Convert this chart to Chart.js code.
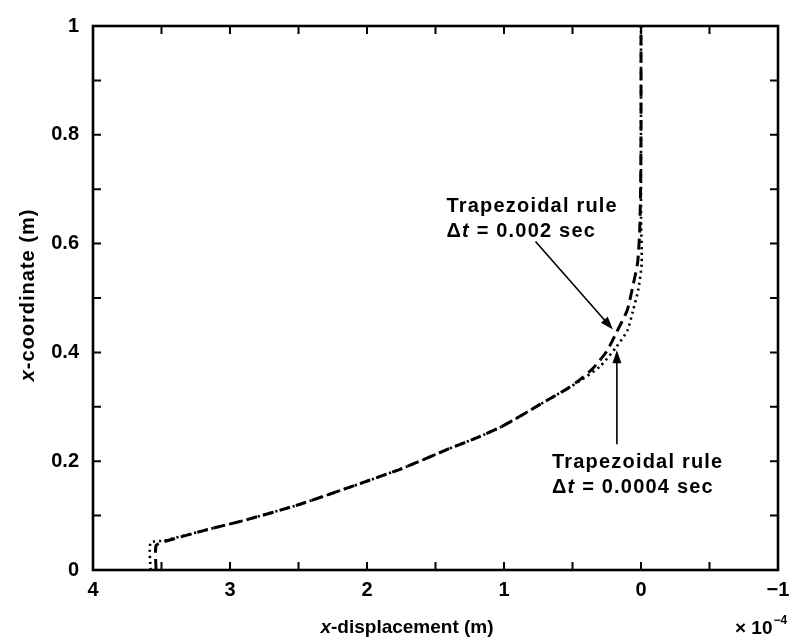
<!DOCTYPE html>
<html>
<head>
<meta charset="utf-8">
<script src="https://cdn.jsdelivr.net/npm/chart.js@4.4.0/dist/chart.umd.min.js"></script>
<style>
  html, body { margin: 0; padding: 0; background: #fff; }
  #wrap { width: 798px; height: 643px; position: relative; }
</style>
</head>
<body>
<div id="wrap"><canvas id="chart"></canvas></div>
<script>
// Values (x in units of 1e-4 m, y in m)
const coarseX = [3.54, 3.54, 3.48, 3.2, 2.87, 2.5, 2.14, 1.75, 1.41, 1.2, 1.03, 0.88, 0.74, 0.54, 0.45, 0.35, 0.25, 0.18, 0.10, 0.055, 0.025, 0.01, 0.003, 0, 0];
const coarseY = [0, 0.045, 0.052, 0.072, 0.093, 0.12, 0.151, 0.186, 0.222, 0.243, 0.262, 0.283, 0.304, 0.333, 0.349, 0.371, 0.402, 0.436, 0.478, 0.527, 0.564, 0.62, 0.7, 0.8, 1];

const fineX = [3.58, 3.58, 3.48, 3.2, 2.87, 2.5, 2.14, 1.75, 1.41, 1.2, 1.03, 0.88, 0.74, 0.54, 0.45, 0.3, 0.18, 0.10, 0.06, 0.02, -0.005, 0, 0];
const fineY = [0, 0.05, 0.054, 0.072, 0.093, 0.12, 0.151, 0.186, 0.222, 0.243, 0.262, 0.283, 0.304, 0.333, 0.347, 0.374, 0.41, 0.44, 0.475, 0.515, 0.564, 0.65, 1];

// tick labels
const xLabelTicks = [4, 3, 2, 1, 0, -1];
const yLabelTicks = [0, 0.2, 0.4, 0.6, 0.8, 1];

const FONT = '"Liberation Sans", Arial, sans-serif';

function toPoints(xs, ys) {
    return xs.map((x, i) => ({ x: x, y: ys[i] }));
}

// inward ticks and the box round the plot
const frameTicks = {
    id: 'frameTicks',
    afterDraw(chart) {
        const { ctx, chartArea: a, scales } = chart;
        const len = 8;
        ctx.save();
        ctx.strokeStyle = '#000';
        ctx.lineWidth = 2;
        scales.x.ticks.forEach(t => {
            const px = scales.x.getPixelForValue(t.value);
            ctx.beginPath();
            ctx.moveTo(px, a.bottom); ctx.lineTo(px, a.bottom - len);
            ctx.moveTo(px, a.top); ctx.lineTo(px, a.top + len);
            ctx.stroke();
        });
        scales.y.ticks.forEach(t => {
            const py = scales.y.getPixelForValue(t.value);
            ctx.beginPath();
            ctx.moveTo(a.left, py); ctx.lineTo(a.left + len, py);
            ctx.moveTo(a.right, py); ctx.lineTo(a.right - len, py);
            ctx.stroke();
        });
        ctx.lineWidth = 2.6;
        ctx.strokeRect(a.left, a.top, a.right - a.left, a.bottom - a.top);
        ctx.restore();
    }
};

function arrow(ctx, x1, y1, x2, y2) {
    const ang = Math.atan2(y2 - y1, x2 - x1);
    const h = 13, w = 4.5;
    ctx.beginPath();
    ctx.moveTo(x1, y1);
    ctx.lineTo(x2 - Math.cos(ang) * h * 0.8, y2 - Math.sin(ang) * h * 0.8);
    ctx.stroke();
    ctx.beginPath();
    ctx.moveTo(x2, y2);
    ctx.lineTo(x2 - Math.cos(ang) * h + Math.sin(ang) * w, y2 - Math.sin(ang) * h - Math.cos(ang) * w);
    ctx.lineTo(x2 - Math.cos(ang) * h - Math.sin(ang) * w, y2 - Math.sin(ang) * h + Math.cos(ang) * w);
    ctx.closePath();
    ctx.fill();
}

// draws "x" in italic then the rest upright, centred on 0
function mixedTitle(ctx, rest, size) {
    ctx.font = 'italic bold ' + size + 'px ' + FONT;
    const w1 = ctx.measureText('x').width;
    ctx.font = 'bold ' + size + 'px ' + FONT;
    const w2 = ctx.measureText(rest).width;
    ctx.font = 'italic bold ' + size + 'px ' + FONT;
    ctx.fillText('x', -(w1 + w2) / 2, 0);
    ctx.font = 'bold ' + size + 'px ' + FONT;
    ctx.fillText(rest, -(w1 + w2) / 2 + w1, 0);
}

// labels, arrows and axis titles
const notes = {
    id: 'notes',
    afterDraw(chart) {
        const { ctx, scales: { x, y } } = chart;
        const X = v => x.getPixelForValue(v);
        const Y = v => y.getPixelForValue(v);
        ctx.save();
        ctx.fillStyle = '#000';
        ctx.strokeStyle = '#000';
        ctx.textAlign = 'left';
        ctx.textBaseline = 'alphabetic';
        ctx.letterSpacing = '1.2px';

        function deltaLine(px, py, rest) {
            ctx.font = 'bold 20px ' + FONT;
            ctx.fillText('\u0394', px, py);
            let w = ctx.measureText('\u0394').width;
            ctx.font = 'italic bold 20px ' + FONT;
            ctx.fillText('t', px + w, py);
            w += ctx.measureText('t').width;
            ctx.font = 'bold 20px ' + FONT;
            ctx.fillText(rest, px + w, py);
        }

        ctx.font = 'bold 20px ' + FONT;
        ctx.fillText('Trapezoidal rule', X(1.42), Y(0.658));
        deltaLine(X(1.42), Y(0.613), ' = 0.002 sec');

        ctx.font = 'bold 20px ' + FONT;
        ctx.fillText('Trapezoidal rule', X(0.65), Y(0.187));
        deltaLine(X(0.65), Y(0.142), ' = 0.0004 sec');

        ctx.lineWidth = 1.6;
        arrow(ctx, X(0.77), Y(0.604), X(0.205), Y(0.442));
        arrow(ctx, X(0.176), Y(0.231), X(0.176), Y(0.404));

        // x axis title
        ctx.letterSpacing = '0px';
        ctx.save();
        ctx.translate(407, 633);
        mixedTitle(ctx, '-displacement (m)', 19);
        ctx.restore();

        // y axis title
        ctx.save();
        ctx.letterSpacing = '1px';
        ctx.translate(34, 295);
        ctx.rotate(-Math.PI / 2);
        mixedTitle(ctx, '-coordinate (m)', 20);
        ctx.restore();

        // multiplier
        ctx.font = 'bold 19px ' + FONT;
        ctx.fillText('\u00d7 10', 735, 634);
        const mw = ctx.measureText('\u00d7 10').width;
        ctx.font = 'bold 12px ' + FONT;
        ctx.fillText('\u22124', 735 + mw + 1, 624);
        ctx.restore();
    }
};

const ctx = document.getElementById('chart');
new Chart(ctx, {
    type: 'scatter',
    data: {
        datasets: [
            {
                label: 'Trapezoidal rule, dt = 0.0004 sec',
                data: toPoints(fineX, fineY),
                showLine: true,
                borderColor: '#000',
                borderWidth: 2.6,
                borderDash: [2.2, 3.8],
                pointRadius: 0,
                tension: 0.2
            },
            {
                label: 'Trapezoidal rule, dt = 0.002 sec',
                data: toPoints(coarseX, coarseY),
                showLine: true,
                borderColor: '#000',
                borderWidth: 3,
                borderDash: [11, 6],
                pointRadius: 0,
                tension: 0.2
            }
        ]
    },
    options: {
        responsive: true,
        maintainAspectRatio: false,
        animation: false,
        layout: { padding: { left: 0, top: 20, right: 20, bottom: 0 } },
        plugins: {
            legend: { display: false },
            tooltip: { enabled: false }
        },
        scales: {
            x: {
                type: 'linear',
                min: -1,
                max: 4,
                reverse: true,
                grid: { display: false, drawTicks: false },
                border: { display: false },
                afterFit: s => { s.height = 73; },
                ticks: {
                    stepSize: 0.5,
                    padding: 8,
                    color: '#000',
                    font: { family: FONT, size: 20, weight: 'bold' },
                    maxRotation: 0,
                    autoSkip: false,
                    callback: v => {
                        const hit = xLabelTicks.find(t => Math.abs(t - v) < 1e-6);
                        if (hit === undefined) return '';
                        return hit < 0 ? '\u2212' + Math.abs(hit) : String(hit);
                    }
                }
            },
            y: {
                type: 'linear',
                min: 0,
                max: 1,
                grid: { display: false, drawTicks: false },
                border: { display: false },
                afterFit: s => { s.width = 93; },
                ticks: {
                    stepSize: 0.1,
                    padding: 14,
                    color: '#000',
                    font: { family: FONT, size: 20, weight: 'bold' },
                    autoSkip: false,
                    callback: v => {
                        const hit = yLabelTicks.find(t => Math.abs(t - v) < 1e-6);
                        return hit === undefined ? '' : String(hit);
                    }
                }
            }
        }
    },
    plugins: [frameTicks, notes]
});
</script>
</body>
</html>
